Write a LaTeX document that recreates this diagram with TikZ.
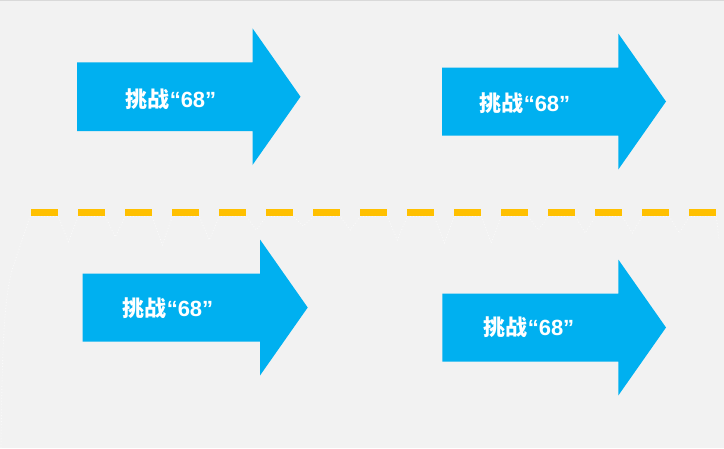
\documentclass[tikz,border=0pt]{standalone}
\usepackage{fontspec}
\setmainfont{Liberation Sans}
\newfontfamily\cjk{Noto Sans CJK SC}
\definecolor{bgc}{HTML}{F2F2F2}
\definecolor{arrowblue}{HTML}{00B0F0}
\definecolor{dashorange}{HTML}{FFC000}
\definecolor{faintw}{HTML}{FAFAFA}
\newcommand\challengelabel{{\cjk\bfseries 挑战}{\bfseries “68”}}
\tikzset{
  arr/.style={fill=arrowblue},
  lbl/.style={text=white, font=\fontsize{22}{26}\selectfont, inner sep=0pt},
  sepline/.style={line width=6.7pt, draw=dashorange, dash pattern=on 27pt off 20pt},
  faintline/.style={draw=faintw, line width=0.9pt, dotted}
}
\begin{document}
\begin{tikzpicture}[x=1pt,y=-1pt]
\useasboundingbox (0,0) rectangle (724,448);
\fill[bgc] (0,0) rectangle (724,448);
\draw[black!15, line width=1pt] (0,0.5) -- (724,0.5);
% faint guide line
\draw[faintline] (1,448) .. controls (2,350) and (4,300) .. (12,270) -- (30,216.5)
  \foreach \d [count=\k from 0] in {241.7,236.7,245,240,230,226,230,240,243,243,230,233,233,233} {
    -- ({58.3+47*\k},216.5) -- ({68.3+47*\k},\d) -- ({78.3+47*\k},216.5)
  } -- (716.3,216.5) -- (719,240);
% separator
\draw[sepline] (31.3,212.3) -- (716.3,212.3);
% arrows
\fill[arr] (77,62.3) -- (252.5,62.3) -- (252.5,28.3) -- (300.5,96.7) -- (252.5,165) -- (252.5,131) -- (77,131) -- cycle;
\fill[arr] (442,67.5) -- (618.3,67.5) -- (618.3,33.5) -- (666,101.5) -- (618.3,169.5) -- (618.3,135.5) -- (442,135.5) -- cycle;
\fill[arr] (82.7,273.5) -- (260,273.5) -- (260,239.5) -- (307.7,307.5) -- (260,375.5) -- (260,341.5) -- (82.7,341.5) -- cycle;
\fill[arr] (442.3,293.5) -- (618.3,293.5) -- (618.3,259.5) -- (666,327.5) -- (618.3,395.5) -- (618.3,361.5) -- (442.3,361.5) -- cycle;
% labels
\node[lbl] (t1) at (171,99) {\challengelabel};
\node[lbl] (t2) at (525,103) {\challengelabel};
\node[lbl] (t3) at (168,308) {\challengelabel};
\node[lbl] (t4) at (529,327.5) {\challengelabel};
\end{tikzpicture}
\end{document}
